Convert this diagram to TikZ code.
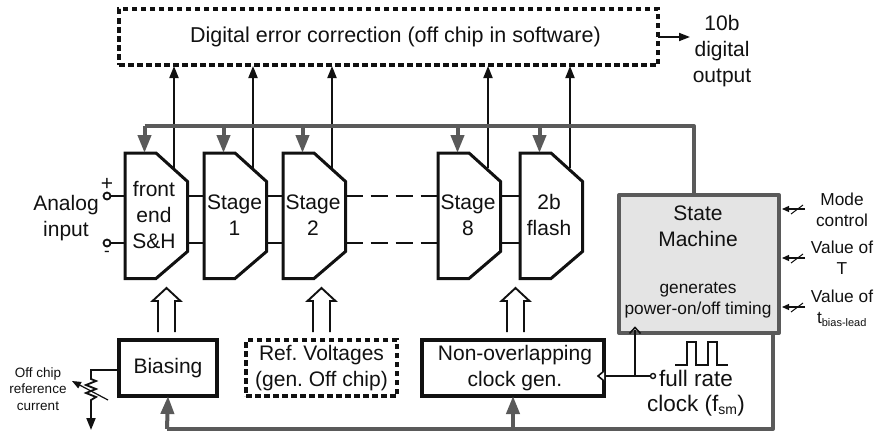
\documentclass[tikz,border=0pt]{standalone}
\usepackage{fontspec}
\setmainfont{Liberation Sans}
\usetikzlibrary{arrows.meta,calc}
\definecolor{ink}{HTML}{111111}
\definecolor{graywire}{HTML}{5A5A5A}
\definecolor{smfill}{HTML}{E4E4E4}
\newcommand{\fsz}[2]{\fontsize{#1}{#2}\selectfont}
\frenchspacing
\tikzset{
  every node/.style={text=ink,inner sep=0pt,outer sep=0pt},
  lab/.style={align=center,font=\fsz{21}{26}},
  smalllab/.style={align=center,font=\fsz{17.3}{21}},
  tinylab/.style={align=center,font=\fsz{13.5}{16.5}},
  box/.style={draw=ink,line width=3.1pt,fill=white,align=center,font=\fsz{21}{26}},
  dashbox/.style={box,dash pattern=on 5.5pt off 3.5pt,line width=3.1pt},
  modshape/.style={draw=ink,line width=3pt,fill=white,line join=miter},
  wire/.style={draw=ink,line width=1.8pt},
  datawire/.style={draw=ink,line width=1.8pt,-{Triangle[length=12pt,width=9pt]}},
  ctrl/.style={draw=graywire,line width=4pt,line join=round},
  ctrlarrow/.style={draw=graywire,line width=4pt,-{Triangle[length=18pt,width=13pt]}},
  openarrow/.style={draw=ink,line width=1.9pt,fill=white,line join=miter},
  smallarrow/.style={draw=ink,line width=1.3pt,-{Triangle[length=7pt,width=6pt]}},
  term/.style={circle,draw=ink,line width=1.8pt,fill=white,minimum size=7pt},
}
% module: name, left x, text offset, text
\newcommand{\modul}[4]{%
  \draw[modshape] (#2,153) -- ({#2+31},153) -- ({#2+62.5},181.5) -- ({#2+62.5},251.5) -- ({#2+31},278.5) -- (#2,278.5) -- cycle;
  \coordinate (#1-top) at ({#2+19.5},153);
  \coordinate (#1-out) at ({#2+49},168);
  \coordinate (#1-ul) at (#2,196);
  \coordinate (#1-ll) at (#2,243);
  \coordinate (#1-ur) at ({#2+62.5},196);
  \coordinate (#1-lr) at ({#2+62.5},243);
  \node[lab] (#1-text) at ({#2+#3},215) {#4};
}
% open double arrow from a base coordinate
\newcommand{\dblarrow}[1]{%
  \draw[openarrow] ($(#1)+(-8.5,0)$) -- ++(0,-31) -- ++(-5.5,0) -- ++(14,-13) -- ++(14,13) -- ++(-5.5,0) -- ++(0,31);
}
\begin{document}
\begin{tikzpicture}[x=1pt,y=-1pt]
\useasboundingbox (0,0) rectangle (875,431);

% top box
\node[dashbox,minimum width=539pt,minimum height=56pt] (dec) at (388.5,37) {\fsz{21.5}{26}\hspace*{14pt}Digital error correction (off chip in software)};
\coordinate (decout) at (dec.east);
\coordinate (outend) at (690,37);
\node[lab,anchor=center] (outlabel) at (722,51) {10b\\digital\\output};
\draw[wire,-{Triangle[length=11pt,width=8pt]}] (decout) -- (outend);

% control bus
\coordinate (busL) at (144.5,126);
\coordinate (busR) at (694,126);

% state machine
\node[draw=graywire,line width=4pt,fill=smfill,minimum width=160pt,minimum height=138pt,line join=round] (sm) at (699,264) {};
\node[lab] (smtitle) at (698,226) {State\\Machine};
\node[smalllab] (smsub) at (698,300.5) {generates\\power-on/off timing};

% modules
\modul{fe}{125}{29}{front\\end\\S\&H}
\modul{sa}{204}{30.5}{Stage\\1}
\modul{sb}{283}{30}{Stage\\2}
\modul{sc}{438}{30}{Stage\\8}
\modul{fl}{520}{29}{2b\\flash}

% inter-stage wires
\foreach \a/\b in {fe/sa,sa/sb,sc/fl}{
  \draw[wire] (\a-ur) -- (\b-ul);
  \draw[wire] (\a-lr) -- (\b-ll);
}
\draw[wire,dash pattern=on 17pt off 8pt] (sb-ur) -- (sc-ul);
\draw[wire,dash pattern=on 17pt off 8pt] (sb-lr) -- (sc-ll);

% digital outputs
\foreach \m/\tx in {fe/174,sa/253,sb/332,sc/488,fl/570}{
  \coordinate (\m-dec) at (\tx,66);
  \draw[datawire] (\m-out -| \m-dec) -- (\m-dec);
}

% control arrows
\draw[ctrl] (busL) -- (busR) -- (busR |- sm.north);
\foreach \m in {fe,sa,sb,sc,fl}{
  \draw[ctrlarrow] (\m-top |- busL) -- (\m-top);
}

% analog input
\node[term] (inp) at (107,196) {};
\node[term] (inm) at (107,243) {};
\draw[wire] (inp) -- (fe-ul);
\draw[wire] (inm) -- (fe-ll);
\node[lab] (plus) at (107,184) {+};
\node[lab] (minus) at (107,254) {\fsz{17}{20}-};
\node[lab] (ain) at (66,218) {Analog\\input};

% lower boxes
\node[box,minimum width=98pt,minimum height=56pt] (bias) at (168,368) {Biasing};
\node[dashbox,minimum width=151pt,minimum height=56pt] (ref) at (321.5,368) {Ref. Voltages\\(gen. Off chip)};
\node[box,minimum width=182pt,minimum height=56pt] (clk) at (513,368) {\hspace*{4pt}Non-overlapping\\\hspace*{4pt}clock gen.};

% open double arrows
\coordinate (dbA) at (166.5,332);
\coordinate (dbB) at (321.5,332);
\coordinate (dbC) at (515.5,332);
\dblarrow{dbA}
\dblarrow{dbB}
\dblarrow{dbC}

% lower control bus
\coordinate (busB) at (773,429);
\coordinate (busBL) at (167,429);
\draw[ctrl] (sm.south -| busB) -- (busB) -- (busBL);
\draw[ctrlarrow] (busBL) -- (bias.south);
\draw[ctrlarrow] (clk.south |- busB) -- (clk.south);

% clock
\node[circle,draw=ink,line width=1.4pt,fill=white,minimum size=5pt] (ck) at (653,376) {};
\coordinate (ckbr) at (635,376);
\coordinate (cksm) at (635,330);
\draw[wire] (ck) -- (clk.east |- ck);
\draw[wire] (ckbr) -- (cksm);
\draw[openarrow,fill=none,line width=1.6pt] ($(cksm)+(-5.5,3.5)$) -- ++(5.5,-6) -- ++(5.5,6);
\draw[openarrow,line width=1.6pt] ($(clk.east |- ck)+(0,-5)$) -- ++(-6,5) -- ++(6,5);
\draw[ink,line width=1.7pt,line join=miter] (675,365) -- (687,365) -- (687,342) -- (696,342) -- (696,365) -- (708,365) -- (708,342) -- (717,342) -- (717,365) -- (728,365);
\node[align=center,font=\fsz{22.5}{25}] (cklab) at (696,393) {full rate\\clock (f\textsubscript{\fsz{14}{14}sm})};

% resistor
\coordinate (rtop) at (91,370);
\coordinate (rbot) at (91,430);
\draw[wire,line join=miter] (bias.west |- rtop) -- (rtop) -- (91,379) -- (96,381) -- (86,385) -- (96,389) -- (86,393) -- (96,397) -- (91,400) -- (91,412);
\draw[datawire] (91,410) -- (rbot);
\coordinate (rarrA) at (108,400);
\coordinate (rarrB) at (72,381);
\draw[draw=ink,line width=1.2pt,-{Triangle[length=9pt,width=7pt]}] (rarrA) -- (rarrB);
\node[tinylab] (rlab) at (38,389) {Off chip\\reference\\current};

% state machine inputs
\foreach \y/\n in {209/a,258/b,307/c}{
  \coordinate (in\n) at (805,\y);
  \coordinate (tip\n) at (782,\y);
  \draw[smallarrow] (in\n) -- (tip\n);
  \draw[ink,line width=1pt] (791,{\y+5}) -- (803,{\y-4});
}
\node[smalllab] (ml) at (842,209.5) {Mode\\control};
\node[smalllab] (vt) at (842,257.5) {Value of\\T};
\node[smalllab] (vb) at (842,308) {Value of\\t\textsubscript{\fsz{11}{11}bias-lead}};
\end{tikzpicture}
\end{document}
